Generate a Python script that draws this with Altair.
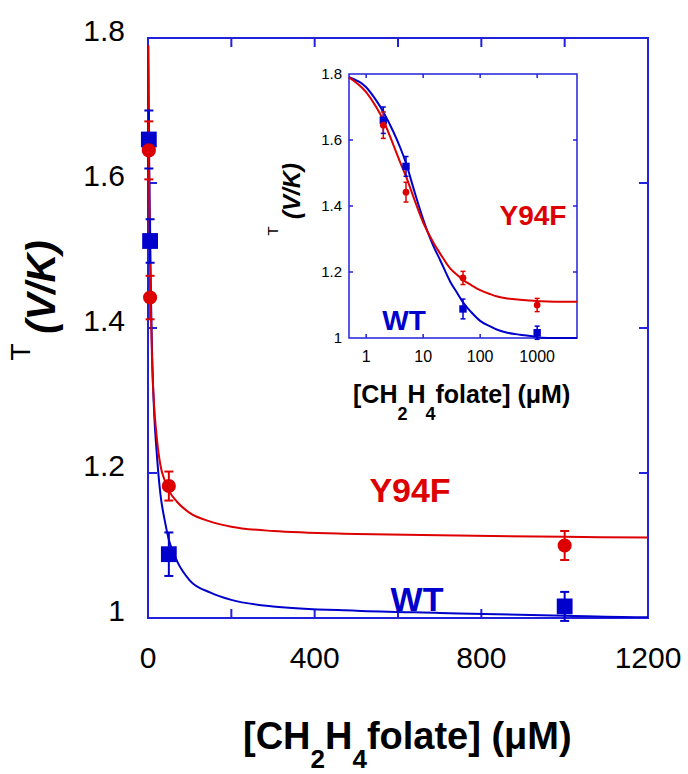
import altair as alt
import pandas as pd

# ---------------- data ----------------
series_names = ["WT", "Y94F"]
point_x = [2, 5, 50, 1000]
wt_y = [1.66, 1.52, 1.088, 1.016]
wt_err = [0.04, 0.03, 0.03, 0.02]
y94f_y = [1.645, 1.442, 1.182, 1.100]
y94f_err = [0.04, 0.03, 0.02, 0.02]

curve_x = [0.5, 1, 1.5, 2, 3, 4, 5, 7, 10, 15, 20, 30, 40, 50, 70, 100,
           150, 200, 300, 500, 700, 1000, 1200, 2000, 5000]
wt_curve = [1.79, 1.76, 1.72, 1.685, 1.625, 1.575, 1.53, 1.445, 1.36, 1.28,
            1.235, 1.17, 1.135, 1.108, 1.078, 1.052, 1.035, 1.025, 1.016,
            1.010, 1.007, 1.003, 1.001, 1.0, 1.0]
y94f_curve = [1.79, 1.745, 1.70, 1.66, 1.585, 1.53, 1.49, 1.42, 1.35, 1.29,
              1.255, 1.21, 1.19, 1.176, 1.16, 1.145, 1.133, 1.126, 1.12,
              1.116, 1.114, 1.112, 1.111, 1.11, 1.11]

main_x_labels = [0, 400, 800, 1200]
main_y_labels = [1, 1.2, 1.4, 1.6, 1.8]
main_x_ticks = [200, 400, 600, 800, 1000]
main_y_ticks = [1.2, 1.4, 1.6]
inset_x_labels = [1, 10, 100, 1000]
inset_y_labels = [1, 1.2, 1.4, 1.6, 1.8]
inset_x_ticks = [1, 10, 100, 1000]
inset_y_ticks = [1.2, 1.4, 1.6]

# ---------------- styling ----------------
BLUE = "#0000cc"
RED = "#dd0000"
FRAME = "#2222dd"
FONT = "Liberation Sans, Arial, Helvetica, sans-serif"

pts = pd.DataFrame({
    "series": ["WT"] * 4 + ["Y94F"] * 4,
    "x": point_x * 2,
    "y": wt_y + y94f_y,
    "err": wt_err + y94f_err,
})
pts["lo"] = pts["y"] - pts["err"]
pts["hi"] = pts["y"] + pts["err"]

curves = pd.DataFrame({
    "series": ["WT"] * len(curve_x) + ["Y94F"] * len(curve_x),
    "x": curve_x * 2,
    "y": wt_curve + y94f_curve,
})

color = alt.Color("series:N", scale=alt.Scale(domain=series_names, range=[BLUE, RED]), legend=None)

W, H = 500, 580
mx = alt.Scale(domain=[0, 1200], nice=False, zero=False)
my = alt.Scale(domain=[1, 1.8], nice=False, zero=False)
ix = alt.Scale(type="log", domain=[0.5, 5000], range=[201, 429], nice=False)
iy = alt.Scale(domain=[1, 1.8], range=[300, 36], nice=False, zero=False)

one = pd.DataFrame({"d": [0]})


def txt(text, x, y, size, col="black", weight="normal", style="normal",
        angle=0, align="left", baseline="alphabetic"):
    return alt.Chart(one).mark_text(
        text=text, fontSize=size, color=col, fontWeight=weight, fontStyle=style,
        angle=angle, align=align, baseline=baseline, font=FONT
    ).encode(x=alt.value(x), y=alt.value(y))


def panel(xs, ys, xr, yr, x_labels, y_labels, x_ticks, y_ticks, tick_len, sw,
          lab_size_x, lab_size_y, xlab_y, ylab_x, ylab_dy):
    """Frame, inward ticks and tick labels of one panel, drawn through its scales."""
    frame_df = pd.DataFrame({"x0": [xs.domain[0]], "x1": [xs.domain[1]],
                             "y0": [ys.domain[0]], "y1": [ys.domain[1]]})
    frame = alt.Chart(frame_df).mark_rect(filled=False, stroke=FRAME, strokeWidth=sw).encode(
        x=alt.X("x0:Q", scale=xs, axis=None), x2="x1:Q",
        y=alt.Y("y0:Q", scale=ys, axis=None), y2="y1:Q")
    xt = pd.DataFrame({"v": x_ticks})
    yt = pd.DataFrame({"v": y_ticks})
    tb = alt.Chart(xt).mark_rule(color=FRAME, strokeWidth=sw).encode(
        x=alt.X("v:Q", scale=xs, axis=None), y=alt.value(yr[0]), y2=alt.value(yr[0] - tick_len))
    tt = alt.Chart(xt).mark_rule(color=FRAME, strokeWidth=sw).encode(
        x=alt.X("v:Q", scale=xs, axis=None), y=alt.value(yr[1]), y2=alt.value(yr[1] + tick_len))
    tl = alt.Chart(yt).mark_rule(color=FRAME, strokeWidth=sw).encode(
        y=alt.Y("v:Q", scale=ys, axis=None), x=alt.value(xr[0]), x2=alt.value(xr[0] + tick_len))
    tr = alt.Chart(yt).mark_rule(color=FRAME, strokeWidth=sw).encode(
        y=alt.Y("v:Q", scale=ys, axis=None), x=alt.value(xr[1]), x2=alt.value(xr[1] - tick_len))
    xl = alt.Chart(pd.DataFrame({"v": x_labels})).mark_text(
        fontSize=lab_size_x, font=FONT, baseline="alphabetic", align="center", color="black").encode(
        x=alt.X("v:Q", scale=xs, axis=None), y=alt.value(xlab_y), text=alt.Text("v:Q", format="~g"))
    yl = alt.Chart(pd.DataFrame({"v": y_labels})).mark_text(
        fontSize=lab_size_y, font=FONT, baseline="middle", align="right", color="black",
        dy=ylab_dy).encode(
        y=alt.Y("v:Q", scale=ys, axis=None), x=alt.value(ylab_x), text=alt.Text("v:Q", format="~g"))
    return [frame, tb, tt, tl, tr, xl, yl]


def data_layers(xs, ys, lw, ew, cap, sq, circ):
    line = alt.Chart(curves).mark_line(strokeWidth=lw, clip=True, interpolate="monotone").encode(
        x=alt.X("x:Q", scale=xs, axis=None), y=alt.Y("y:Q", scale=ys, axis=None),
        color=color, detail="series:N")
    err = alt.Chart(pts).mark_rule(strokeWidth=ew).encode(
        x=alt.X("x:Q", scale=xs, axis=None), y=alt.Y("lo:Q", scale=ys, axis=None),
        y2="hi:Q", color=color)
    caps = alt.Chart(pts).transform_fold(["lo", "hi"], as_=["end", "yv"]).mark_tick(
        orient="horizontal", size=cap, thickness=ew, opacity=1).encode(
        x=alt.X("x:Q", scale=xs, axis=None), y=alt.Y("yv:Q", scale=ys, axis=None), color=color)
    squares = alt.Chart(pts).transform_filter(alt.datum.series == "WT").mark_square(
        size=sq, opacity=1, color=BLUE).encode(
        x=alt.X("x:Q", scale=xs, axis=None), y=alt.Y("y:Q", scale=ys, axis=None))
    circles = alt.Chart(pts).transform_filter(alt.datum.series == "Y94F").mark_circle(
        size=circ, opacity=1, color=RED).encode(
        x=alt.X("x:Q", scale=xs, axis=None), y=alt.Y("y:Q", scale=ys, axis=None))
    return [line, err, caps, squares, circles]


main = alt.layer(
    *panel(mx, my, (0, W), (H, 0), main_x_labels, main_y_labels, main_x_ticks, main_y_ticks,
           9, 2, 30, 30, 630, -23, -6),
    *data_layers(mx, my, 2, 2, 9, 250, 200),
)
inset = alt.layer(
    *panel(ix, iy, (201, 429), (300, 36), inset_x_labels, inset_y_labels, inset_x_ticks,
           inset_y_ticks, 4, 1.5, 16, 15, 324, 194, 0),
    *data_layers(ix, iy, 2, 1.5, 5, 55, 45),
)

# ---------------- annotations and titles ----------------
texts = [
    txt("Y94F", 262, 464, 34, RED, "bold", align="center"),
    txt("WT", 269, 573, 34, BLUE, "bold", align="center"),
    txt("Y94F", 385, 187, 28, RED, "bold", align="center"),
    txt("WT", 256, 292, 28, BLUE, "bold", align="center"),
    # main x title
    txt("[CH", 95, 711, 38, weight="bold"),
    txt("2", 162.5, 730, 26, weight="bold"),
    txt("H", 177, 711, 38, weight="bold"),
    txt("4", 204.4, 730, 26, weight="bold"),
    txt("folate] (μM)", 218.9, 711, 38, weight="bold"),
    # inset x title
    txt("[CH", 205, 365, 25, weight="bold"),
    txt("2", 249.4, 382, 18, weight="bold"),
    txt("H", 259.4, 365, 25, weight="bold"),
    txt("4", 277.5, 382, 18, weight="bold"),
    txt("folate] (μM)", 287.5, 365, 25, weight="bold"),
    # main y title
    txt("(V/K)", -93, 249, 40, weight="bold", style="italic", angle=270, align="center"),
    txt("T", -118, 314, 28, angle=270, align="center"),
    # inset y title
    txt("(V/K)", 152, 153, 24, weight="bold", style="italic", angle=270, align="center"),
    txt("T", 130, 193, 15, angle=270, align="center"),
]

chart = alt.layer(main, inset, *texts).resolve_scale(
    x="independent", y="independent"
).properties(
    width=W, height=H,
    autosize=alt.AutoSizeParams(type="none"),
    padding={"left": 148, "top": 38, "right": 40, "bottom": 156},
).configure_view(
    stroke=None
).configure(background="white")

chart.save("out.html", embed_options={"renderer": "svg", "actions": False})
